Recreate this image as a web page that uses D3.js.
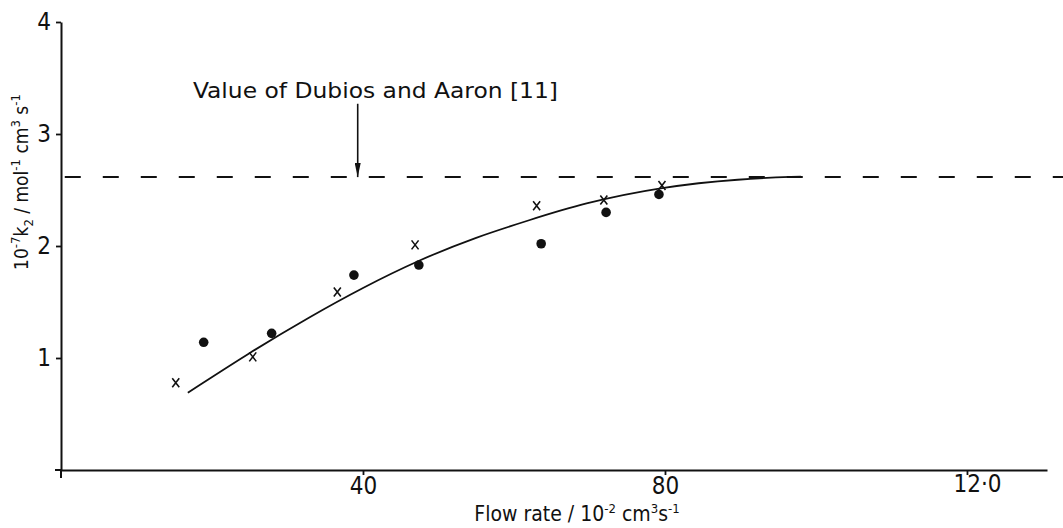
<!DOCTYPE html>
<html>
<script src="https://d3js.org/d3.v7.min.js"></script>
<style>
  body { margin: 0; background: #fff; }
  text { font-family: "DejaVu Sans Condensed", "DejaVu Sans", sans-serif; fill: #111; }
</style>
<body>
<div id="chart"></div>

<script>
    // data
    var dotX = [1.89, 2.79, 3.88, 4.74, 6.36, 7.22, 7.92];
    var dotY = [1.14, 1.22, 1.74, 1.83, 2.02, 2.30, 2.46];
    var crossX = [1.52, 2.54, 3.66, 4.69, 6.30, 7.19, 7.96];
    var crossY = [0.78, 1.01, 1.59, 2.01, 2.36, 2.41, 2.54];
    var fitX = [1.68, 2.5, 3.3, 4.0, 4.74, 5.5, 6.2, 6.9, 7.97, 9.0, 9.8];
    var fitY = [0.69, 1.05, 1.37, 1.63, 1.875, 2.08, 2.23, 2.38, 2.53, 2.60, 2.62];
    var litValue = 2.615;    // Dubios and Aaron
    var arrowX = 3.93;
    var xTicks = [4, 8, 12];
    var xTickLabels = ["40", "80", "12·0"];
    var yTicks = [1, 2, 3, 4];
    var yTickLabels = ["1", "2", "3", "4"];

    var width = 1063, height = 528;

    var svg = d3.select("#chart")
        .append("svg")
        .attr("width", width)
        .attr("height", height);

    var x = d3.scaleLinear().domain([0, 13.06]).range([61, 1047]);
    var y = d3.scaleLinear().domain([0, 4]).range([470, 22]);

    // axes
    var xAxis = d3.axisBottom(x)
        .tickValues(xTicks)
        .tickFormat(function (d, i) { return xTickLabels[i]; })
        .tickSize(5)
        .tickSizeOuter(0)
        .tickPadding(6);

    var yAxis = d3.axisLeft(y)
        .tickValues(yTicks)
        .tickFormat(function (d, i) { return yTickLabels[i]; })
        .tickSize(5)
        .tickSizeOuter(0)
        .tickPadding(5);

    var gx = svg.append("g").attr("transform", "translate(0," + y(0) + ")").call(xAxis);
    var gy = svg.append("g").attr("transform", "translate(" + x(0) + ",0)").call(yAxis);

    [gx, gy].forEach(function (g) {
        g.select(".domain").attr("stroke", "#111").attr("stroke-width", 2);
        g.selectAll(".tick line").attr("stroke", "#111").attr("stroke-width", 1.8);
        g.selectAll(".tick text")
            .style("font-family", '"DejaVu Sans Condensed", "DejaVu Sans", sans-serif')
            .attr("font-size", 24).attr("fill", "#111");
    });
    gx.selectAll(".tick text").attr("dy", "0.55em");
    // the last label sits a little higher and to the right
    gx.selectAll(".tick text").filter(function (d) { return d === 12; })
        .attr("dx", 10).attr("dy", "0.45em");

    // small overshoots of the axis lines past the origin
    svg.append("line")
        .attr("x1", x(0)).attr("x2", x(0))
        .attr("y1", y(0)).attr("y2", y(0) + 8)
        .attr("stroke", "#111").attr("stroke-width", 2);
    svg.append("line")
        .attr("x1", x(0) - 6).attr("x2", x(0))
        .attr("y1", y(0)).attr("y2", y(0))
        .attr("stroke", "#111").attr("stroke-width", 2);

    // literature value, dashed
    svg.append("line")
        .attr("x1", x(0.05)).attr("x2", x(13.6))
        .attr("y1", y(litValue)).attr("y2", y(litValue))
        .attr("stroke", "#111").attr("stroke-width", 2)
        .attr("stroke-dasharray", "16,22");

    // fitted curve
    var fit = fitX.map(function (d, i) { return [d, fitY[i]]; });
    var line = d3.line()
        .x(function (d) { return x(d[0]); })
        .y(function (d) { return y(d[1]); })
        .curve(d3.curveBasis);
    svg.append("path")
        .datum(fit)
        .attr("d", line)
        .attr("fill", "none")
        .attr("stroke", "#111")
        .attr("stroke-width", 1.8);

    // points
    svg.selectAll("circle.dot")
        .data(dotX)
        .enter().append("circle")
        .attr("class", "dot")
        .attr("cx", function (d) { return x(d); })
        .attr("cy", function (d, i) { return y(dotY[i]); })
        .attr("r", 4.8)
        .attr("fill", "#111");

    svg.selectAll("path.cross")
        .data(crossX)
        .enter().append("path")
        .attr("class", "cross")
        .attr("transform", function (d, i) { return "translate(" + x(d) + "," + y(crossY[i]) + ")"; })
        .attr("d", "M-3.5,-4.5L3.5,4.5M3.5,-4.5L-3.5,4.5")
        .attr("stroke", "#111")
        .attr("stroke-width", 1.6)
        .attr("fill", "none");

    // annotation with arrow
    svg.append("defs").append("marker")
        .attr("id", "head")
        .attr("viewBox", "0 0 14 6")
        .attr("refX", 14).attr("refY", 3)
        .attr("markerWidth", 14).attr("markerHeight", 6)
        .attr("markerUnits", "userSpaceOnUse")
        .attr("orient", "auto")
        .append("path")
        .attr("d", "M0,0L14,3L0,6Z")
        .attr("fill", "#111");

    svg.append("line")
        .attr("x1", x(arrowX)).attr("x2", x(arrowX))
        .attr("y1", y(3.27)).attr("y2", y(litValue))
        .attr("stroke", "#111").attr("stroke-width", 1.6)
        .attr("marker-end", "url(#head)");

    svg.append("text")
        .attr("x", 193).attr("y", 98)
        .attr("font-size", 21)
        .attr("textLength", 365)
        .attr("lengthAdjust", "spacingAndGlyphs")
        .text("Value of Dubios and Aaron [11]");

    // axis titles
    var xt = svg.append("text")
        .attr("x", 577).attr("y", 521)
        .attr("text-anchor", "middle")
        .attr("font-size", 21);
    xt.append("tspan").text("Flow rate / 10");
    xt.append("tspan").attr("font-size", 13).attr("dy", -8).text("-2");
    xt.append("tspan").attr("dy", 8).text(" cm");
    xt.append("tspan").attr("font-size", 13).attr("dy", -8).text("3");
    xt.append("tspan").attr("dy", 8).text("s");
    xt.append("tspan").attr("font-size", 13).attr("dy", -8).text("-1");

    var yt = svg.append("text")
        .attr("transform", "translate(28,182) rotate(-90)")
        .attr("text-anchor", "middle")
        .attr("font-size", 19);
    yt.append("tspan").text("10");
    yt.append("tspan").attr("font-size", 13).attr("dy", -8).text("-7");
    yt.append("tspan").attr("dy", 8).text("k");
    yt.append("tspan").attr("font-size", 13).attr("dy", 5).text("2");
    yt.append("tspan").attr("dy", -5).text(" / mol");
    yt.append("tspan").attr("font-size", 13).attr("dy", -8).text("-1");
    yt.append("tspan").attr("dy", 8).text(" cm");
    yt.append("tspan").attr("font-size", 13).attr("dy", -8).text("3");
    yt.append("tspan").attr("dy", 8).text(" s");
    yt.append("tspan").attr("font-size", 13).attr("dy", -8).text("-1");
</script>

</body>
</html>
